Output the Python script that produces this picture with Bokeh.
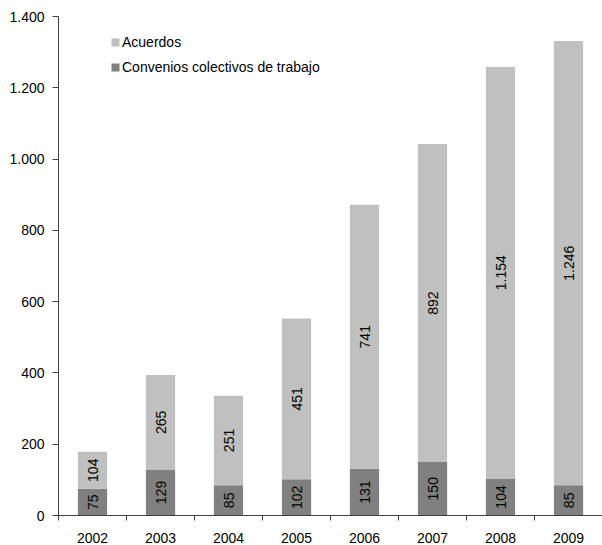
import math
from bokeh.plotting import figure
from bokeh.models import Range1d, FixedTicker, ColumnDataSource, Legend, LegendItem
from bokeh.core.properties import value
from bokeh.embed import file_html
from bokeh.resources import INLINE

years = ["2002", "2003", "2004", "2005", "2006", "2007", "2008", "2009"]
convenios = [75, 129, 85, 102, 131, 150, 104, 85]
acuerdos = [104, 265, 251, 451, 741, 892, 1154, 1246]
y_ticks = [0, 200, 400, 600, 800, 1000, 1200, 1400]
y_tick_labels = ["0", "200", "400", "600", "800", "1.000", "1.200", "1.400"]
series_names = ["Acuerdos", "Convenios colectivos de trabajo"]

FONT = "Liberation Sans"
C_LIGHT = "#C0C0C0"
C_DARK = "#808080"


def fmt(v):
    return f"{v:,}".replace(",", ".")


xs = [i + 0.5 for i in range(len(years))]
tops = [c + a for c, a in zip(convenios, acuerdos)]
src = ColumnDataSource(dict(
    x=xs,
    conv=convenios,
    acu=acuerdos,
    top=tops,
    conv_mid=[c / 2 for c in convenios],
    acu_mid=[c + a / 2 for c, a in zip(convenios, acuerdos)],
    conv_lbl=[fmt(v) for v in convenios],
    acu_lbl=[fmt(v) for v in acuerdos],
))

p = figure(width=602, height=545, x_range=Range1d(0, len(years)),
           y_range=Range1d(0, 1400), output_backend="svg", toolbar_location=None,
           min_border_left=58, min_border_right=0, min_border_top=16,
           min_border_bottom=29)
p.outline_line_color = None
p.xgrid.grid_line_color = None
p.ygrid.grid_line_color = None
p.background_fill_color = "white"
p.border_fill_color = "white"

r_conv = p.vbar(x="x", bottom=0, top="conv", width=0.43, source=src,
                fill_color=C_DARK, line_color=None)
r_acu = p.vbar(x="x", bottom="conv", top="top", width=0.43, source=src,
               fill_color=C_LIGHT, line_color=None)

for ycol, tcol in (("conv_mid", "conv_lbl"), ("acu_mid", "acu_lbl")):
    p.text(x="x", y=ycol, text=tcol, source=src, angle=math.pi / 2,
           text_align="center", text_baseline="middle",
           text_font=value(FONT), text_font_size="14px", text_color="black")

AX = "#404040"
# x axis
xa = p.xaxis[0]
xa.ticker = FixedTicker(ticks=xs, minor_ticks=list(range(len(years) + 1)))
xa.major_label_overrides = {x: y for x, y in zip(xs, years)}
xa.major_tick_out = 0
xa.major_tick_in = 0
xa.minor_tick_out = 5
xa.minor_tick_in = 0
xa.minor_tick_line_color = AX
xa.axis_line_color = AX
xa.major_label_standoff = 12
xa.major_label_text_font = FONT
xa.major_label_text_font_size = "14px"
xa.major_label_text_color = "black"

ya = p.yaxis[0]
ya.ticker = FixedTicker(ticks=y_ticks)
ya.major_label_overrides = {t: l for t, l in zip(y_ticks, y_tick_labels)}
ya.major_tick_out = 6
ya.major_tick_in = 0
ya.minor_tick_line_color = None
ya.major_tick_line_color = AX
ya.axis_line_color = AX
ya.major_label_standoff = 8
ya.major_label_text_font = FONT
ya.major_label_text_font_size = "14px"
ya.major_label_text_color = "black"

legend = Legend(items=[LegendItem(label=series_names[0], renderers=[r_acu]),
                       LegendItem(label=series_names[1], renderers=[r_conv])],
                location=(52, 438), orientation="vertical",
                glyph_width=10, glyph_height=10, label_height=20,
                label_standoff=2, spacing=5, padding=0, margin=0,
                border_line_color=None, background_fill_alpha=0,
                label_text_font=FONT, label_text_font_size="14px",
                label_text_color="black")
p.add_layout(legend)

open("out.html", "w").write(file_html(p, INLINE))
